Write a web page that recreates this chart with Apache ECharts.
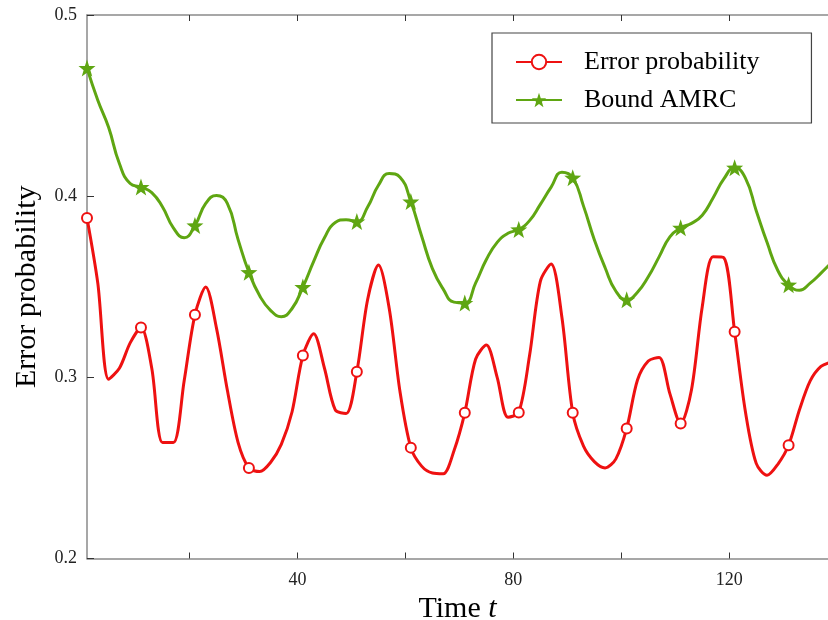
<!DOCTYPE html>
<html><head><meta charset="utf-8">
<script src="https://cdn.jsdelivr.net/npm/echarts@6/dist/echarts.min.js"></script>
<style>html,body{margin:0;padding:0;background:#fff}#c{width:828px;height:620px}</style>
</head><body><div id="c"></div>
<script>
const timeSteps = [1,3,5,7,9,11,13,15,17,19,21,23,25,27,29,31,33,35,37,39,41,43,45,47,49,51,53,55,57,59,61,63,65,67,69,71,73,75,77,79,81,83,85,87,89,91,93,95,97,99,101,103,105,107,109,111,113,115,117,119,121,123,125,127,129,131,133,135,137,139];
const errorProbability = [0.388,0.352,0.299,0.305,0.319,0.3275,0.305,0.264,0.264,0.298,0.3345,0.3498,0.327,0.293,0.264,0.250,0.248,0.253,0.263,0.281,0.312,0.324,0.305,0.282,0.280,0.3031,0.343,0.362,0.338,0.292,0.2612,0.251,0.2472,0.2468,0.2595,0.2804,0.310,0.3178,0.300,0.278,0.2806,0.312,0.353,0.3625,0.333,0.2804,0.262,0.2535,0.250,0.255,0.2718,0.2985,0.309,0.311,0.291,0.2745,0.293,0.339,0.3665,0.366,0.3252,0.281,0.2525,0.2459,0.252,0.2625,0.282,0.298,0.306,0.3085];
const boundAMRC = [0.4707,0.453,0.438,0.418,0.407,0.405,0.402,0.394,0.3825,0.377,0.3838,0.396,0.4004,0.396,0.376,0.358,0.345,0.337,0.3335,0.338,0.3498,0.364,0.377,0.3855,0.387,0.386,0.394,0.406,0.4125,0.4105,0.397,0.378,0.360,0.3487,0.3415,0.341,0.352,0.365,0.3745,0.3795,0.3816,0.3865,0.3955,0.405,0.4132,0.4102,0.3945,0.376,0.3605,0.3475,0.3428,0.347,0.3555,0.3665,0.3775,0.3825,0.385,0.3895,0.399,0.4095,0.4157,0.410,0.392,0.3745,0.359,0.3511,0.348,0.352,0.3575,0.3635];
const markerTimes = [1,11,21,31,41,51,61,71,81,91,101,111,121,131];
const xTickValues = [20,40,60,80,100,120];
const xLabelValues = [40,80,120];

const STAR = 'path://M0,-10 L2.35,-3.24 L9.51,-3.09 L3.8,1.24 L5.88,8.09 L0,4 L-5.88,8.09 L-3.8,1.24 L-9.51,-3.09 L-2.35,-3.24 Z';
const RED = '#ee1111', GREEN = '#5fa612';
const serif = '"Liberation Serif","DejaVu Serif",serif';

function build(vals){
  return timeSteps.map((t,i)=> markerTimes.includes(t) ? [t, vals[i]] : {value:[t, vals[i]], symbol:'none'});
}

const axisLineStyle = {color:'#8a8a8a', width:1.5};
const chart = echarts.init(document.getElementById('c'), null, {renderer:'canvas'});
chart.setOption({
  animation:false,
  backgroundColor:'#fff',
  grid:{left:87, top:15, bottom:61.5, right:0, containLabel:false, outerBoundsMode:'none'},
  legend:{
    orient:'vertical', left:492, top:33,
    padding:[14,52,8,23],
    itemWidth:46, itemHeight:18, itemGap:8,
    backgroundColor:'#fff', borderColor:'#444', borderWidth:1.2, borderRadius:0,
    textStyle:{fontFamily:serif, fontSize:26, lineHeight:30, color:'#000', padding:[0,0,0,17]},
    data:['Error probability','Bound AMRC']
  },
  xAxis:[{
    type:'value', min:1, max:138.3, position:'bottom',
    axisLine:{show:true, lineStyle:axisLineStyle},
    axisTick:{show:true, inside:true, length:6, customValues:xTickValues, lineStyle:{color:'#333', width:1}},
    axisLabel:{show:true, customValues:xLabelValues, margin:13, fontFamily:serif, fontSize:18, color:'#222'},
    splitLine:{show:false},
    name:'{a|Time }{b|t}', nameLocation:'middle', nameGap:34,
    nameTextStyle:{rich:{a:{fontFamily:serif, fontSize:30, color:'#000'}, b:{fontFamily:serif, fontSize:30, fontStyle:'italic', color:'#000'}}}
  },{
    type:'value', min:1, max:138.3, position:'top',
    axisLine:{show:true, lineStyle:axisLineStyle},
    axisTick:{show:true, inside:true, length:6, customValues:xTickValues, lineStyle:{color:'#333', width:1}},
    axisLabel:{show:false}, splitLine:{show:false}
  }],
  yAxis:{
    type:'value', min:0.2, max:0.5, interval:0.1,
    axisLine:{show:true, lineStyle:axisLineStyle},
    axisTick:{show:true, inside:true, length:7, lineStyle:{color:'#333', width:1}},
    axisLabel:{margin:10, fontFamily:serif, fontSize:18, color:'#222', formatter:v=>v.toFixed(1)},
    splitLine:{show:false},
    name:'Error probability', nameLocation:'middle', nameGap:45, nameRotate:90,
    nameTextStyle:{fontFamily:serif, fontSize:30, color:'#000'}
  },
  series:[{
    name:'Error probability', type:'line', xAxisIndex:0,
    data:build(errorProbability), smooth:0.3,
    symbol:'emptyCircle', symbolSize:10, showAllSymbol:true,
    lineStyle:{color:RED, width:3}, itemStyle:{color:RED, borderColor:RED, borderWidth:2}
  },{
    name:'Bound AMRC', type:'line', xAxisIndex:0,
    data:build(boundAMRC), smooth:0.5,
    symbol:STAR, symbolSize:17, showAllSymbol:true,
    lineStyle:{color:GREEN, width:3}, itemStyle:{color:GREEN}
  }]
});
</script></body></html>
